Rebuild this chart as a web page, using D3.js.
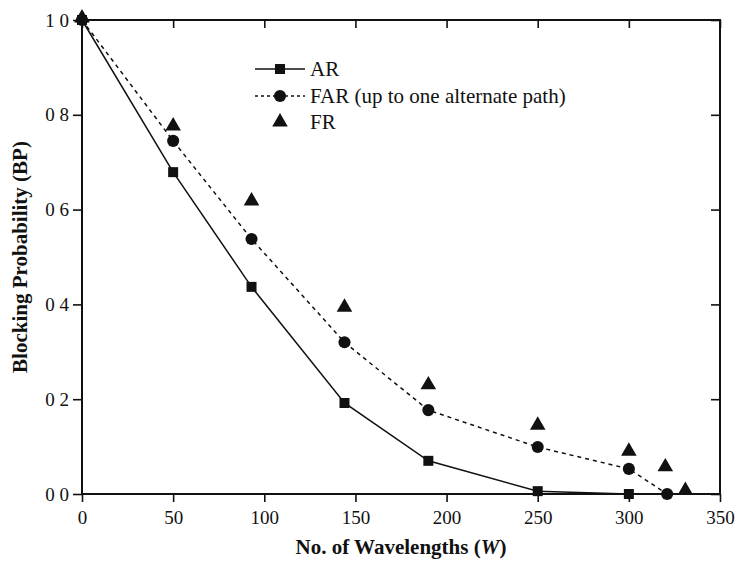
<!DOCTYPE html>
<html>
<head>
<meta charset="utf-8">
<script src="https://cdn.jsdelivr.net/npm/d3@7"></script>
<style>
  body { margin: 0; background: #fff; }
  text { font-family: "Liberation Serif", "Times New Roman", serif; fill: #111; }
</style>
</head>
<body>
<div id="chart"></div>
<script>
// data
var arW   = [0, 50, 93, 144, 190, 250, 300];
var arBP  = [1.0, 0.679, 0.437, 0.192, 0.07, 0.006, 0.0];
var farW  = [0, 50, 93, 144, 190, 250, 300, 321];
var farBP = [1.0, 0.745, 0.538, 0.32, 0.177, 0.099, 0.053, 0.0];
var frW   = [0, 50, 93, 144, 190, 250, 300, 320, 331];
var frBP  = [1.0, 0.772, 0.614, 0.39, 0.226, 0.141, 0.086, 0.053, 0.003];
var xTicks = [0, 50, 100, 150, 200, 250, 300, 350];
var yTicks = [0, 0.2, 0.4, 0.6, 0.8, 1.0];
var yTickLabels = ["0 0", "0 2", "0 4", "0 6", "0 8", "1 0"];
var legendNames = ["AR", "FAR (up to one alternate path)", "FR"];

var width = 735, height = 563;
var margin = {top: 20, right: 15, bottom: 69, left: 82};
var w = width - margin.left - margin.right;
var h = height - margin.top - margin.bottom;

var svg = d3.select("#chart").append("svg")
    .attr("width", width)
    .attr("height", height);

var g = svg.append("g")
    .attr("transform", "translate(" + margin.left + "," + margin.top + ")");

var xScale = d3.scaleLinear().domain([0, 350]).range([0, w]);
var yScale = d3.scaleLinear().domain([0, 1]).range([h, 0]);

// bottom axis
var xAxis = g.append("g")
    .attr("transform", "translate(0," + h + ")")
    .call(d3.axisBottom(xScale).tickValues(xTicks).tickSize(8).tickPadding(9));
// left axis
var yAxis = g.append("g")
    .call(d3.axisLeft(yScale).tickValues(yTicks).tickSize(9).tickPadding(4)
      .tickFormat(function(d, i){ return yTickLabels[i]; }));
// top and right mirror ticks (inside)
var topAxis = g.append("g")
    .call(d3.axisBottom(xScale).tickValues(xTicks).tickSize(8).tickFormat(""));
var rightAxis = g.append("g")
    .attr("transform", "translate(" + w + ",0)")
    .call(d3.axisLeft(yScale).tickValues(yTicks).tickSize(9).tickFormat(""));

[xAxis, yAxis, topAxis, rightAxis].forEach(function(a){
  a.select(".domain").remove();
  a.selectAll("line").attr("stroke", "#111").attr("stroke-width", 1.6);
  a.selectAll("text").attr("font-size", "19px")
   .attr("font-family", "'Liberation Serif', serif").attr("fill", "#111");
});

// frame
g.append("rect")
  .attr("x", 0).attr("y", 0).attr("width", w).attr("height", h)
  .attr("fill", "none").attr("stroke", "#111").attr("stroke-width", 2);

var line = d3.line()
    .x(function(d){ return xScale(d[0]); })
    .y(function(d){ return yScale(d[1]); });

var arData  = arW.map(function(d, i){ return [d, arBP[i]]; });
var farData = farW.map(function(d, i){ return [d, farBP[i]]; });
var frData  = frW.map(function(d, i){ return [d, frBP[i]]; });

g.append("path").datum(arData)
  .attr("d", line).attr("fill", "none")
  .attr("stroke", "#111").attr("stroke-width", 1.5);
g.append("path").datum(farData)
  .attr("d", line).attr("fill", "none")
  .attr("stroke", "#111").attr("stroke-width", 1.5)
  .attr("stroke-dasharray", "4,4");

var sq = d3.symbol().type(d3.symbolSquare).size(100);
var ci = d3.symbol().type(d3.symbolCircle).size(115);
var tri = d3.symbol().type(d3.symbolTriangle).size(105);

g.selectAll(".ar").data(arData).enter().append("path")
  .attr("d", sq).attr("fill", "#111")
  .attr("transform", function(d){ return "translate(" + xScale(d[0]) + "," + yScale(d[1]) + ")"; });
g.selectAll(".far").data(farData).enter().append("path")
  .attr("d", ci).attr("fill", "#111")
  .attr("transform", function(d){ return "translate(" + xScale(d[0]) + "," + yScale(d[1]) + ")"; });
g.selectAll(".fr").data(frData).enter().append("path")
  .attr("d", tri).attr("fill", "#111")
  .attr("transform", function(d){ return "translate(" + xScale(d[0]) + "," + (yScale(d[1]) - 2) + ")"; });

// legend
var legend = svg.append("g");
var rowY = [69, 96, 122];
var markers = [sq, ci, tri];
var dashes = [null, "3,3", null];
legendNames.forEach(function(name, i){
  if (i < 2) {
    legend.append("line")
      .attr("x1", 255).attr("x2", 305)
      .attr("y1", rowY[i]).attr("y2", rowY[i])
      .attr("stroke", "#111").attr("stroke-width", 1.5)
      .attr("stroke-dasharray", dashes[i]);
  }
  legend.append("path")
    .attr("d", markers[i]).attr("fill", "#111")
    .attr("transform", "translate(280," + rowY[i] + ")");
  legend.append("text")
    .attr("x", 310).attr("y", rowY[i])
    .attr("dy", "0.35em")
    .attr("font-size", "21px")
    .text(name);
});

// axis titles
svg.append("text")
  .attr("x", margin.left + w / 2).attr("y", 554)
  .attr("text-anchor", "middle")
  .attr("font-size", "21px").attr("font-weight", "bold")
  .html("No. of Wavelengths (<tspan font-style='italic'>W</tspan>)");

svg.append("text")
  .attr("transform", "translate(27," + (margin.top + h / 2) + ") rotate(-90)")
  .attr("text-anchor", "middle")
  .attr("font-size", "21px").attr("font-weight", "bold")
  .text("Blocking Probability (BP)");
</script>
</body>
</html>
